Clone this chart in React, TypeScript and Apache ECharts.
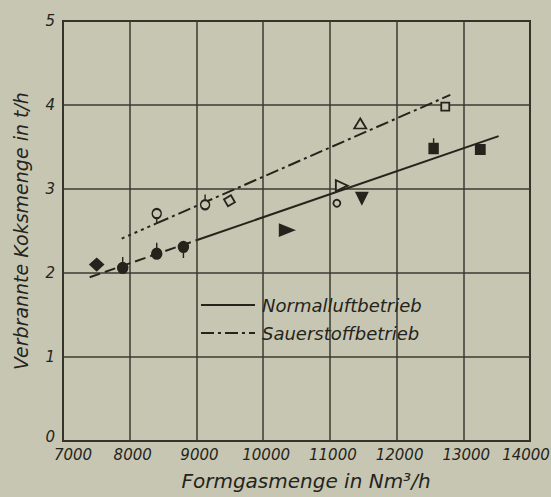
import React, { useEffect, useRef } from "react";
import * as echarts from "echarts";

// ---- axis ranges ----
const xMin = 7000;
const xMax = 14000;
const xStep = 1000;
const yMin = 0;
const yMax = 5;
const yStep = 1;

// ---- labels ----
const xTitle = "Formgasmenge in Nm³/h";
const yTitle = "Verbrannte Koksmenge in t/h";
const seriesNames = ["Normalluftbetrieb", "Sauerstoffbetrieb"];

// ---- fitted lines (x: Nm³/h, y: t/h) ----
const normalLineSolid = [[9000, 2.39], [13530, 3.63]];
const normalLineDashed = [[7400, 1.95], [9000, 2.39]];
const oxyLineDotted = [[7880, 2.41], [8400, 2.59]];
const oxyLineDashDot = [[8400, 2.59], [12805, 4.12]];

// ---- measured points ----
const filledDiamonds = [[7505, 2.1]];
const filledCirclesStemUp = [[7895, 2.06], [8405, 2.23]];
const filledCirclesStemDown = [[8805, 2.31]];
const openCirclesStemDown = [[8405, 2.71]];
const openCirclesStemUp = [[9130, 2.81]];
const openDiamonds = [[9495, 2.86]];
const openCircles = [[11105, 2.83]];
const openTrianglesUp = [[11455, 3.78]];
const openTrianglesRight = [[11180, 3.04]];
const openSquares = [[12730, 3.98]];
const filledTrianglesDown = [[11480, 2.89]];
const filledTrianglesRight = [[10355, 2.51]];
const filledSquaresStemUp = [[12555, 3.48]];
const filledSquares = [[13255, 3.47]];

const BG = "#c7c6b2";
const INK = "#24241c";
const FONT = "DejaVu Sans";

const DASH_SOLID: any = "solid";
const DASH_LONG = [11, 5];
const DASH_DOT = [13, 4, 3, 4];
const DASH_FINE = [3, 4];

const circleStemUp =
  "path://M0,11 C0,8.24 2.24,6 5,6 C7.76,6 10,8.24 10,11 C10,13.76 7.76,16 5,16 C2.24,16 0,13.76 0,11 Z M5,6 L5,0";
const circleStemDown =
  "path://M0,5 C0,2.24 2.24,0 5,0 C7.76,0 10,2.24 10,5 C10,7.76 7.76,10 5,10 C2.24,10 0,7.76 0,5 Z M5,10 L5,16";
const squareStemUp = "path://M0,6 L10,6 L10,16 L0,16 Z M5,6 L5,0";

function scatter(
  name: string,
  data: number[][],
  symbol: string,
  size: number | number[],
  filled: boolean,
  rotate = 0,
  offset: number[] = [0, 0]
) {
  return {
    name,
    type: "scatter",
    data,
    symbol,
    symbolSize: size,
    symbolRotate: rotate,
    symbolOffset: offset,
    z: 5,
    itemStyle: {
      color: filled ? INK : BG,
      borderColor: INK,
      borderWidth: 1.8,
      opacity: 1,
    },
  };
}

function lineSeries(name: string, data: number[][], type: any) {
  return {
    name,
    type: "line",
    data,
    symbol: "none",
    z: 3,
    lineStyle: { color: INK, width: 2, type },
    itemStyle: { color: INK },
  };
}

function legendRow(y: number, dash: any, label: string) {
  return [
    {
      type: "line",
      shape: { x1: 201, y1: y, x2: 255, y2: y },
      style: { stroke: INK, lineWidth: 2, lineDash: dash === "solid" ? null : dash },
      z: 10,
    },
    {
      type: "text",
      x: 262,
      y,
      z: 10,
      style: {
        text: label,
        fontFamily: FONT,
        fontStyle: "italic",
        fontSize: 18,
        fill: INK,
        textAlign: "left",
        textVerticalAlign: "middle",
      },
    },
  ];
}

export default function App() {
  const ref = useRef<HTMLDivElement>(null);
  useEffect(() => {
    if (!ref.current) return;
    const chart = echarts.init(ref.current, null, { renderer: "svg" });
    const labelStyle = {
      fontFamily: FONT,
      fontStyle: "italic",
      fontSize: 15,
      color: INK,
    };
    const option: any = {
      animation: false,
      backgroundColor: BG,
      grid: {
        left: 63,
        right: 21,
        top: 21,
        bottom: 56,
        containLabel: false,
        outerBoundsMode: "none",
        show: true,
        borderColor: INK,
        borderWidth: 2,
        backgroundColor: "transparent",
      },
      xAxis: {
        type: "value",
        min: xMin,
        max: xMax,
        interval: xStep,
        axisLine: { show: false },
        axisTick: { show: false },
        splitLine: { show: true, lineStyle: { color: "#3a3a30", width: 1.5 } },
        axisLabel: {
          margin: 6,
          ...labelStyle,
          formatter: (v: number) =>
            v === xMin ? `{first|${v}}` : v === xMax ? `{last|${v}}` : `{n|${v}}`,
          rich: {
            first: { ...labelStyle, padding: [0, 0, 0, 20] },
            last: { ...labelStyle, padding: [0, 8, 0, 0] },
            n: { ...labelStyle, padding: [0, 0, 0, 6] },
          },
        },
      },
      yAxis: {
        type: "value",
        min: yMin,
        max: yMax,
        interval: yStep,
        axisLine: { show: false },
        axisTick: { show: false },
        splitLine: { show: true, lineStyle: { color: "#3a3a30", width: 1.5 } },
        axisLabel: {
          margin: 8,
          ...labelStyle,
          formatter: (v: number) => (v === yMin ? `{z|${v}}` : `{n|${v}}`),
          rich: {
            z: { ...labelStyle, padding: [0, 0, 8, 0] },
            n: { ...labelStyle },
          },
        },
      },
      graphic: [
        {
          type: "text",
          x: 306,
          y: 481,
          style: {
            text: xTitle,
            fontFamily: FONT,
            fontStyle: "italic",
            fontSize: 20,
            fill: INK,
            textAlign: "center",
            textVerticalAlign: "middle",
          },
        },
        {
          type: "text",
          x: 21,
          y: 231,
          rotation: Math.PI / 2,
          style: {
            text: yTitle,
            fontFamily: FONT,
            fontStyle: "italic",
            fontSize: 19,
            fill: INK,
            textAlign: "center",
            textVerticalAlign: "middle",
          },
        },
        ...legendRow(305, DASH_SOLID, seriesNames[0]),
        ...legendRow(333, DASH_DOT, seriesNames[1]),
      ],
      series: [
        lineSeries(seriesNames[0], normalLineSolid, DASH_SOLID),
        lineSeries("Normalluftbetrieb (Verlängerung)", normalLineDashed, DASH_LONG),
        lineSeries(seriesNames[1], oxyLineDashDot, DASH_DOT),
        lineSeries("Sauerstoffbetrieb (Verlängerung)", oxyLineDotted, DASH_FINE),
        scatter("filledDiamonds", filledDiamonds, "diamond", [13, 12], true),
        scatter("filledCirclesStemUp", filledCirclesStemUp, circleStemUp, [10, 16], true, 0, [0, -3]),
        scatter("filledCirclesStemDown", filledCirclesStemDown, circleStemDown, [10, 16], true, 0, [0, 3]),
        scatter("openCirclesStemDown", openCirclesStemDown, circleStemDown, [9, 15], false, 0, [0, 3]),
        scatter("openCirclesStemUp", openCirclesStemUp, circleStemUp, [9, 15], false, 0, [0, -3]),
        scatter("openDiamonds", openDiamonds, "rect", 8, false, 30),
        scatter("openCircles", openCircles, "circle", 7, false),
        scatter("openTrianglesUp", openTrianglesUp, "triangle", [12, 10], false),
        scatter("openTrianglesRight", openTrianglesRight, "triangle", [11, 12], false, -90),
        scatter("openSquares", openSquares, "rect", 8, false),
        scatter("filledTrianglesDown", filledTrianglesDown, "triangle", [11, 11], true, 180),
        scatter("filledTrianglesRight", filledTrianglesRight, "triangle", [11, 14], true, -90),
        scatter("filledSquaresStemUp", filledSquaresStemUp, squareStemUp, [9, 15], true, 0, [0, -3]),
        scatter("filledSquares", filledSquares, "rect", 9, true),
      ],
    };
    chart.setOption(option);
    return () => chart.dispose();
  }, []);
  return (
    <div
      ref={ref}
      style={{ position: "absolute", left: 0, top: 0, width: 551, height: 497 }}
    />
  );
}
